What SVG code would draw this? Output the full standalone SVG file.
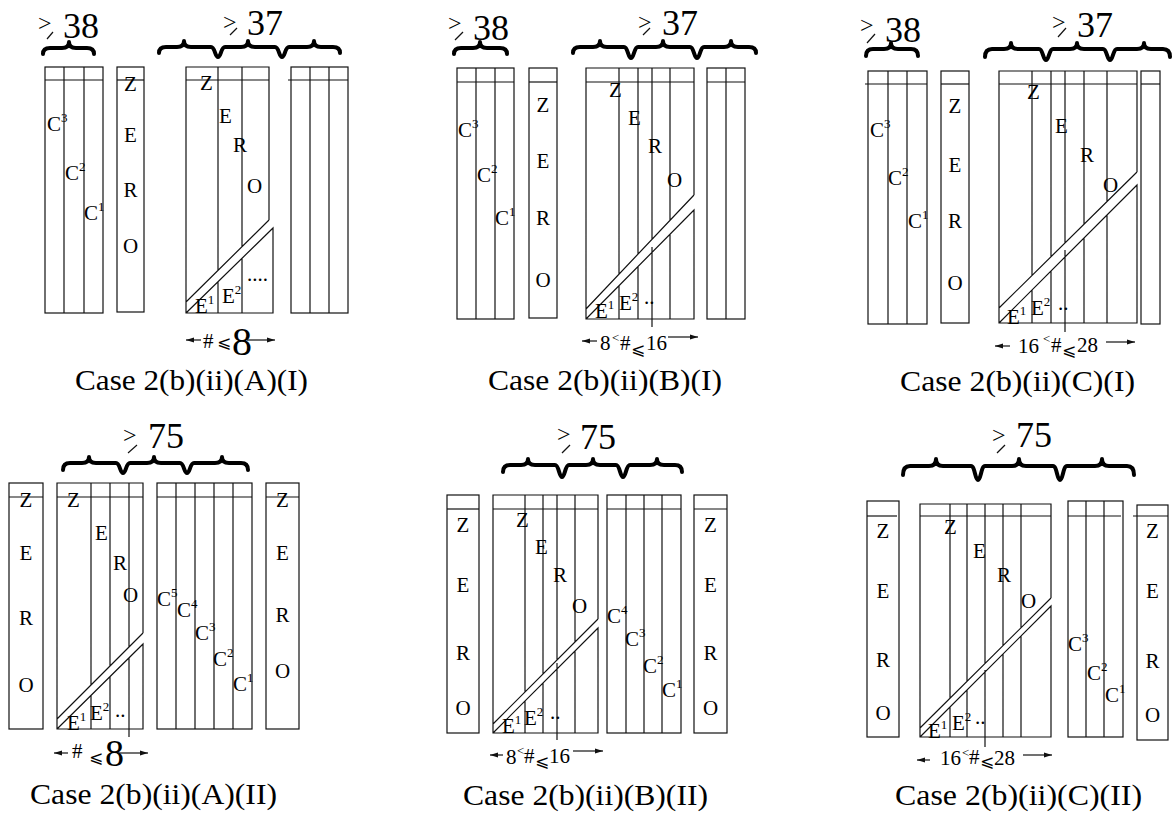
<svg xmlns="http://www.w3.org/2000/svg" width="1173" height="813" viewBox="0 0 1173 813" font-family="Liberation Serif, DejaVu Serif, serif">
<style>
.ln{fill:none;stroke:#111;stroke-width:1.2}
.br{fill:none;stroke:#000;stroke-width:4;stroke-linejoin:round;stroke-linecap:round}
.ar{fill:none;stroke:#111;stroke-width:1.2;marker-end:url(#ah)}
text{fill:#000}
.L{font-size:21px;text-anchor:middle}
.c{font-size:21px}
.s{font-size:13px}
.gt{font-size:24px}
.big{font-size:36px}
.cap{font-size:29px}
.n{font-size:21px}
.sm{font-size:13px}
.le{font-size:17px}
</style>
<defs>
<marker id="ah" markerWidth="8" markerHeight="6" refX="8" refY="3" orient="auto" markerUnits="userSpaceOnUse"><path d="M0,0.5 L8,3 L0,5.5 z" fill="#111"/></marker>
</defs>

<!-- Panel 1 -->
<g id="p1">
<path class="br" d="M43,54 Q43,48 50,48 L62,48 Q69,48 69,42 Q69,48 76,48 L87,48 Q94,48 94,54"/>
<path class="br" d="M159,53 Q159,47 166,47 L177,47 Q184,47 184,41 Q184,47 191,47 L211,47 C215,47 215,57 218,57 C221,57 221,47 225,47 L241,47 Q248,47 248,41 Q248,47 255,47 L275,47 C279,47 279,57 282,57 C285,57 285,47 289,47 L307,47 Q314,47 314,41 Q314,47 321,47 L333,47 Q340,47 340,53"/>
<text class="gt" x="38" y="31">&gt;</text><line class="ln" x1="47" y1="39" x2="53" y2="32"/>
<text class="big" x="63" y="38">38</text>
<text class="gt" x="223" y="30">&gt;</text><line class="ln" x1="230" y1="35" x2="237" y2="28"/>
<text class="big" x="247" y="35">37</text>
<g id="p1-cols"><rect class="ln" x="45" y="67" width="58" height="246"/><path class="ln" d="M45,80 H103 M64,67 V313 M84,67 V313"/>
<text class="c" x="47" y="131">C<tspan class="s" dy="-9">3</tspan></text>
<text class="c" x="65" y="180">C<tspan class="s" dy="-9">2</tspan></text>
<text class="c" x="84" y="220">C<tspan class="s" dy="-9">1</tspan></text></g>
<g id="p1-zero"><rect class="ln" x="117" y="67" width="27" height="245"/><path class="ln" d="M117,80 H144"/>
<text class="L" x="130.5" y="91">Z</text><text class="L" x="130.5" y="142">E</text><text class="L" x="130.5" y="197">R</text><text class="L" x="130.5" y="253">O</text></g>
<g id="p1-main"><path class="ln" d="M269,220 V67 H186 V313 H273 V228 L186,313 M269,220 L186,302 M186,80 H269 M218,67 V270.4 M218,281.7 V313 M242,67 V246.7 M242,258.3 V313"/>
<text class="c" x="200" y="90">Z</text><text class="c" x="219" y="123">E</text><text class="c" x="233" y="152">R</text><text class="c" x="247" y="193">O</text>
<text class="c" x="195" y="313">E<tspan class="s" dy="-9">1</tspan></text>
<text class="c" x="222" y="303">E<tspan class="s" dy="-9">2</tspan></text>
<text class="c" x="247" y="281">....</text></g>
<g id="p1-right"><rect class="ln" x="291" y="67" width="57" height="246"/><path class="ln" d="M288,80 H348 M310,67 V313 M329,67 V313"/></g>
<g id="p1-label"><path class="ar" d="M201,340 H186"/><text class="n" x="203" y="348">#</text><text class="le" x="217" y="348" font-family="DejaVu Sans, sans-serif">⩽</text><text style="font-size:40px" x="232" y="355">8</text><path class="ar" d="M247,340 H275"/></g>
<text class="cap" x="75" y="390" textLength="233" lengthAdjust="spacingAndGlyphs">Case 2(b)(ii)(A)(I)</text>
</g>

<!-- Panel 2 -->
<g id="p2">
<path class="br" d="M454,54 Q454,48 461,48 L473,48 Q480,48 480,42 Q480,48 487,48 L500,48 Q507,48 507,54"/>
<path class="br" d="M573,53 Q573,47 580,47 L593,47 Q600,47 600,41 Q600,47 607,47 L624,47 C628,47 628,58 631,58 C634,58 634,47 638,47 L656,47 Q663,47 663,41 Q663,47 670,47 L690,47 C694,47 694,58 697,58 C700,58 700,47 704,47 L724,47 Q731,47 731,41 Q731,47 738,47 L749,47 Q756,47 756,53"/>
<text class="gt" x="448" y="31">&gt;</text><line class="ln" x1="455" y1="40" x2="463" y2="32"/>
<text class="big" x="473" y="40">38</text>
<text class="gt" x="638" y="30">&gt;</text><line class="ln" x1="643" y1="35" x2="650" y2="28"/>
<text class="big" x="662" y="35">37</text>
<g id="p2-cols"><rect class="ln" x="457" y="68" width="57" height="251"/><path class="ln" d="M457,82 H514 M476,68 V319 M495,68 V319"/>
<text class="c" x="458" y="137">C<tspan class="s" dy="-9">3</tspan></text>
<text class="c" x="477" y="182">C<tspan class="s" dy="-9">2</tspan></text>
<text class="c" x="495" y="225">C<tspan class="s" dy="-9">1</tspan></text></g>
<g id="p2-zero"><rect class="ln" x="529" y="68" width="28" height="250"/><path class="ln" d="M529,82 H557"/>
<text class="L" x="543" y="112">Z</text><text class="L" x="543" y="168">E</text><text class="L" x="543" y="225">R</text><text class="L" x="543" y="287">O</text></g>
<g id="p2-main"><path class="ln" d="M694,195 V68 H586 V319 H694 V210 L586,319 M694,195 L586,309 M586,82 H694 M619,68 V274.2 M619,285.7 V319 M638,68 V254.1 M638,266.5 V319 M652,68 V239.3 M652,247 V327 M670,68 V220.3 M670,234.2 V319"/>
<text class="c" x="609" y="97">Z</text><text class="c" x="628" y="125">E</text><text class="c" x="648" y="153">R</text><text class="c" x="667" y="187">O</text>
<text class="c" x="595" y="318">E<tspan class="s" dy="-9">1</tspan></text>
<text class="c" x="619" y="310">E<tspan class="s" dy="-9">2</tspan></text>
<text class="c" x="644" y="304">..</text></g>
<g id="p2-right"><rect class="ln" x="707" y="68" width="38" height="251"/><path class="ln" d="M707,82 H745 M726,68 V319"/></g>
<g id="p2-label"><path class="ar" d="M597,341 H582"/><text class="n" x="600" y="350">8</text><text class="sm" x="612" y="342">&lt;</text><text class="n" x="620" y="350">#</text><text class="le" x="631" y="355" font-family="DejaVu Sans, sans-serif">⩽</text><text class="n" x="646" y="350">16</text><path class="ar" d="M668,337 H698"/></g>
<text class="cap" x="488" y="390" textLength="234" lengthAdjust="spacingAndGlyphs">Case 2(b)(ii)(B)(I)</text>
</g>

<!-- Panel 3 -->
<g id="p3">
<path class="br" d="M866,56 Q866,49 873,49 L884,49 Q891,49 891,43 Q891,49 898,49 L911,49 Q918,49 918,56"/>
<path class="br" d="M985,57 Q985,49 992,49 L1004,49 Q1011,49 1011,43 Q1011,49 1018,49 L1039,49 C1043,49 1043,60 1046,60 C1049,60 1049,49 1053,49 L1070,49 Q1077,49 1077,43 Q1077,49 1084,49 L1103,49 C1107,49 1107,60 1110,60 C1113,60 1113,49 1117,49 L1137,49 Q1144,49 1144,43 Q1144,49 1151,49 L1163,49 Q1170,49 1170,57"/>
<text class="gt" x="860" y="33">&gt;</text><line class="ln" x1="867" y1="43" x2="875" y2="34"/>
<text class="big" x="885" y="42">38</text>
<text class="gt" x="1052" y="30">&gt;</text><line class="ln" x1="1058" y1="37" x2="1066" y2="28"/>
<text class="big" x="1077" y="37">37</text>
<g id="p3-cols"><rect class="ln" x="868" y="71" width="59" height="253"/><path class="ln" d="M865,84 H927 M888,71 V324 M907,71 V324"/>
<text class="c" x="870" y="137">C<tspan class="s" dy="-9">3</tspan></text>
<text class="c" x="888" y="185">C<tspan class="s" dy="-9">2</tspan></text>
<text class="c" x="908" y="228">C<tspan class="s" dy="-9">1</tspan></text></g>
<g id="p3-zero"><rect class="ln" x="941" y="71" width="28" height="252"/><path class="ln" d="M941,84 H969"/>
<text class="L" x="955" y="113">Z</text><text class="L" x="955" y="172">E</text><text class="L" x="955" y="228">R</text><text class="L" x="955" y="290">O</text></g>
<g id="p3-main"><path class="ln" d="M1137,172 V71 H999 V323 H1137 V185 L999,323 M1137,172 L999,308 M999,84 H1137 M1032,71 V275.5 M1032,290 V323 M1051,71 V256.8 M1051,271 V323 M1065,71 V243 M1065,250 V332 M1084,71 V224.2 M1084,238 V323 M1107,71 V201.6 M1107,215 V323"/>
<text class="c" x="1027" y="99">Z</text><text class="c" x="1055" y="133">E</text><text class="c" x="1080" y="162">R</text><text class="c" x="1103" y="192">O</text>
<text class="c" x="1007" y="324">E<tspan class="s" dy="-9">1</tspan></text>
<text class="c" x="1031" y="315">E<tspan class="s" dy="-9">2</tspan></text>
<text class="c" x="1058" y="310">..</text></g>
<g id="p3-right"><rect class="ln" x="1141" y="71" width="19" height="253"/><path class="ln" d="M1141,84 H1160"/></g>
<g id="p3-label"><path class="ar" d="M1010,346 H995"/><text class="n" x="1018" y="353">16</text><text class="sm" x="1043" y="343">&lt;</text><text class="n" x="1051" y="352">#</text><text class="le" x="1062" y="356" font-family="DejaVu Sans, sans-serif">⩽</text><text class="n" x="1077" y="352">28</text><path class="ar" d="M1106,342 H1135"/></g>
<text class="cap" x="900" y="391" textLength="235" lengthAdjust="spacingAndGlyphs">Case 2(b)(ii)(C)(I)</text>
</g>

<!-- Panel 4 -->
<g id="p4">
<path class="br" d="M63,470 Q63,463 70,463 L82,463 Q89,463 89,457 Q89,463 96,463 L116,463 C120,463 120,473 123,473 C126,473 126,463 130,463 L147,463 Q154,463 154,457 Q154,463 161,463 L180,463 C184,463 184,473 187,473 C190,473 190,463 194,463 L215,463 Q222,463 222,457 Q222,463 229,463 L241,463 Q248,463 248,470"/>
<text class="gt" x="123" y="443">&gt;</text><line class="ln" x1="128" y1="453" x2="137" y2="445"/>
<text class="big" x="148" y="448">75</text>
<g id="p4-zero-l"><rect class="ln" x="9" y="483" width="34" height="246"/><path class="ln" d="M9,497 H43"/>
<text class="L" x="26" y="507">Z</text><text class="L" x="26" y="560">E</text><text class="L" x="26" y="625">R</text><text class="L" x="26" y="692">O</text></g>
<g id="p4-main"><path class="ln" d="M143,633 V483 H57 V729 H143 V644 L57,729 M143,633 L57,719 M57,497 H143 M91,483 V685 M91,695.4 V729 M110,483 V666 M110,676.6 V729 M129,483 V647 M129,657.8 V737"/>
<text class="c" x="67" y="507">Z</text><text class="c" x="95" y="540">E</text><text class="c" x="113" y="570">R</text><text class="c" x="123" y="602">O</text>
<text class="c" x="67" y="730">E<tspan class="s" dy="-9">1</tspan></text>
<text class="c" x="90" y="720">E<tspan class="s" dy="-9">2</tspan></text>
<text class="c" x="115" y="717">..</text></g>
<g id="p4-cols"><rect class="ln" x="157" y="483" width="95" height="246"/><path class="ln" d="M157,497 H252 M176,483 V729 M195,483 V729 M214,483 V729 M233,483 V729"/>
<text class="c" x="157" y="606">C<tspan class="s" dy="-9">5</tspan></text>
<text class="c" x="177" y="617">C<tspan class="s" dy="-9">4</tspan></text>
<text class="c" x="195" y="640">C<tspan class="s" dy="-9">3</tspan></text>
<text class="c" x="213" y="666">C<tspan class="s" dy="-9">2</tspan></text>
<text class="c" x="233" y="691">C<tspan class="s" dy="-9">1</tspan></text></g>
<g id="p4-zero-r"><rect class="ln" x="266" y="483" width="33" height="246"/><path class="ln" d="M266,497 H299"/>
<text class="L" x="282.5" y="507">Z</text><text class="L" x="282.5" y="560">E</text><text class="L" x="282.5" y="622">R</text><text class="L" x="282.5" y="678">O</text></g>
<g id="p4-label"><path class="ar" d="M68,753 H54"/><text class="n" x="72" y="758">#</text><text class="le" x="89" y="763" font-family="DejaVu Sans, sans-serif">⩽</text><text style="font-size:38px" x="105" y="766">8</text><path class="ar" d="M117,753 H148"/></g>
<text class="cap" x="30" y="804" textLength="247" lengthAdjust="spacingAndGlyphs">Case 2(b)(ii)(A)(II)</text>
</g>

<!-- Panel 5 -->
<g id="p5">
<path class="br" d="M503,472 Q503,465 510,465 L521,465 Q528,465 528,459 Q528,465 535,465 L555,465 C559,465 559,477 562,477 C565,477 565,465 569,465 L586,465 Q593,465 593,459 Q593,465 600,465 L616,465 C620,465 620,477 623,477 C626,477 626,465 630,465 L650,465 Q657,465 657,459 Q657,465 664,465 L675,465 Q682,465 682,472"/>
<text class="gt" x="557" y="442">&gt;</text><line class="ln" x1="562" y1="453" x2="570" y2="445"/>
<text class="big" x="580" y="449">75</text>
<g id="p5-zero-l"><rect class="ln" x="447" y="495" width="32" height="238"/><path class="ln" d="M447,509 H479"/>
<text class="L" x="463" y="532">Z</text><text class="L" x="463" y="592">E</text><text class="L" x="463" y="660">R</text><text class="L" x="463" y="715">O</text></g>
<g id="p5-main"><path class="ln" d="M598,619 V495 H493 V733 H598 V628 L493,733 M598,619 L493,724 M493,509 H598 M525,495 V692 M525,701 V733 M543,495 V674 M543,683 V733 M557,495 V660 M557,663 V740 M575,495 V642 M575,651 V733"/>
<text class="c" x="516" y="527">Z</text><text class="c" x="535" y="554">E</text><text class="c" x="553" y="582">R</text><text class="c" x="572" y="613">O</text>
<text class="c" x="502" y="733">E<tspan class="s" dy="-9">1</tspan></text>
<text class="c" x="524" y="725">E<tspan class="s" dy="-9">2</tspan></text>
<text class="c" x="550" y="719">..</text></g>
<g id="p5-cols"><rect class="ln" x="607" y="495" width="74" height="238"/><path class="ln" d="M607,509 H681 M626,495 V733 M644,495 V733 M662,495 V733"/>
<text class="c" x="607" y="623">C<tspan class="s" dy="-9">4</tspan></text>
<text class="c" x="625" y="646">C<tspan class="s" dy="-9">3</tspan></text>
<text class="c" x="643" y="673">C<tspan class="s" dy="-9">2</tspan></text>
<text class="c" x="662" y="697">C<tspan class="s" dy="-9">1</tspan></text></g>
<g id="p5-zero-r"><rect class="ln" x="694" y="495" width="33" height="238"/><path class="ln" d="M694,509 H727"/>
<text class="L" x="710.5" y="532">Z</text><text class="L" x="710.5" y="592">E</text><text class="L" x="710.5" y="660">R</text><text class="L" x="710.5" y="715">O</text></g>
<g id="p5-label"><path class="ar" d="M503,755 H490"/><text class="n" x="506" y="764">8</text><text class="sm" x="517" y="755">&lt;</text><text class="n" x="524" y="763">#</text><text class="le" x="535" y="767" font-family="DejaVu Sans, sans-serif">⩽</text><text class="n" x="549" y="763">16</text><path class="ar" d="M573,751 H603"/></g>
<text class="cap" x="463" y="805" textLength="245" lengthAdjust="spacingAndGlyphs">Case 2(b)(ii)(B)(II)</text>
</g>

<!-- Panel 6 -->
<g id="p6">
<path class="br" d="M903,475 Q903,466 910,466 L929,466 Q936,466 936,459 Q936,466 943,466 L971,466 C975,466 975,480 978,480 C981,480 981,466 985,466 L1012,466 Q1019,466 1019,459 Q1019,466 1026,466 L1053,466 C1057,466 1057,480 1060,480 C1063,480 1063,466 1067,466 L1095,466 Q1102,466 1102,459 Q1102,466 1109,466 L1127,466 Q1134,466 1134,475"/>
<text class="gt" x="992" y="443">&gt;</text><line class="ln" x1="997" y1="453" x2="1005" y2="445"/>
<text class="big" x="1016" y="447">75</text>
<g id="p6-zero-l"><rect class="ln" x="867" y="501" width="32" height="236"/><path class="ln" d="M867,516 H897"/>
<text class="L" x="883" y="538">Z</text><text class="L" x="883" y="598">E</text><text class="L" x="883" y="667">R</text><text class="L" x="883" y="720">O</text></g>
<g id="p6-main"><path class="ln" d="M1051,598 V504 H920 V737 H1051 V606 L920,737 M1051,598 L920,728 M920,516 H1051 M950,504 V698.2 M950,707 V737 M967,504 V681.3 M967,690 V737 M985,504 V663.5 M985,670 V747 M1003,504 V645.6 M1003,654 V737 M1021,504 V627.8 M1021,636 V737"/>
<text class="c" x="944" y="534">Z</text><text class="c" x="973" y="558">E</text><text class="c" x="997" y="582">R</text><text class="c" x="1021" y="608">O</text>
<text class="c" x="928" y="738">E<tspan class="s" dy="-9">1</tspan></text>
<text class="c" x="952" y="730">E<tspan class="s" dy="-9">2</tspan></text>
<text class="c" x="975" y="724">..</text></g>
<g id="p6-cols"><rect class="ln" x="1068" y="501" width="55" height="236"/><path class="ln" d="M1068,516 H1121 M1086,501 V737 M1104,501 V737"/>
<text class="c" x="1068" y="651">C<tspan class="s" dy="-9">3</tspan></text>
<text class="c" x="1087" y="680">C<tspan class="s" dy="-9">2</tspan></text>
<text class="c" x="1105" y="702">C<tspan class="s" dy="-9">1</tspan></text></g>
<g id="p6-zero-r"><rect class="ln" x="1137" y="505" width="31" height="235"/><path class="ln" d="M1133,516 H1168"/>
<text class="L" x="1152.5" y="538">Z</text><text class="L" x="1152.5" y="598">E</text><text class="L" x="1152.5" y="668">R</text><text class="L" x="1152.5" y="722">O</text></g>
<g id="p6-label"><path class="ar" d="M930,760 H917"/><text class="n" x="940" y="765">16</text><text class="sm" x="962" y="757">&lt;</text><text class="n" x="969" y="764">#</text><text class="le" x="980" y="767" font-family="DejaVu Sans, sans-serif">⩽</text><text class="n" x="994" y="765">28</text><path class="ar" d="M1023,755 H1052"/></g>
<text class="cap" x="895" y="805" textLength="247" lengthAdjust="spacingAndGlyphs">Case 2(b)(ii)(C)(II)</text>
</g>
</svg>
